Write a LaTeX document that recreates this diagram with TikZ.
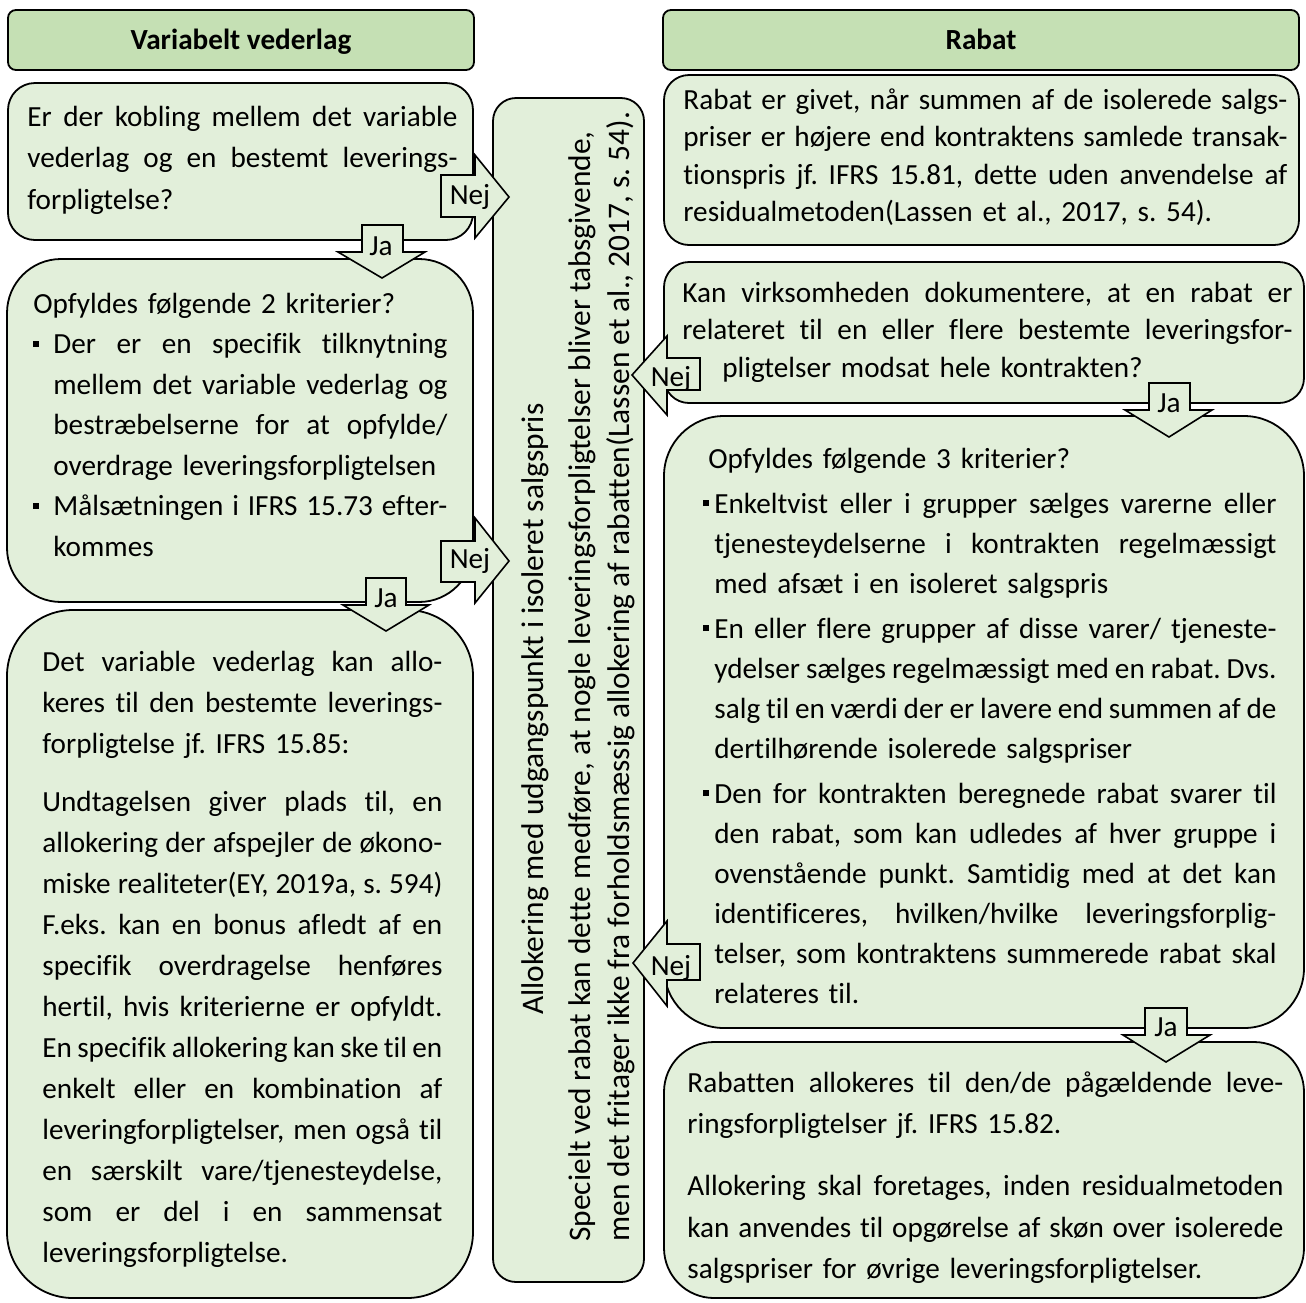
\documentclass[tikz,border=0pt]{standalone}
\usepackage{fontspec}
\setmainfont{Carlito}[Ligatures=NoCommon]
\usetikzlibrary{fit}
\frenchspacing
\definecolor{boxfill}{HTML}{E2EFDA}
\definecolor{headfill}{HTML}{C5E0B4}
\newcommand\sqz{\spaceskip=0.226em plus 1fil minus 0.13em\relax}
\newcommand\jst[1]{{\sqz\makebox[\hsize][s]{#1}}}
\newcommand\bulsq{\rule[3.5pt]{3pt}{3pt}}
\newcommand\bjst[2]{{\sqz\makebox[#1][l]{\bulsq}\makebox[\dimexpr\hsize-#1\relax][s]{#2}}}
\newcommand\ijst[2]{{\sqz\hspace*{#1}\makebox[\dimexpr\hsize-#1\relax][s]{#2}}}
\newcommand\ilst[2]{\hspace*{#1}#2}
\tikzset{
  box/.style={draw=black, line width=0.9pt, fill=boxfill, inner sep=0pt},
  hbox/.style={box, fill=headfill},
  arr/.style={draw=black, line width=0.8pt, fill=boxfill, line join=miter},
  txt/.style={anchor=base west, inner sep=0pt, align=left},
  lab/.style={anchor=base, inner sep=0pt, font=\fontsize{14.6pt}{16pt}\selectfont},
  head/.style={anchor=base, inner sep=0pt, font=\fontsize{14.6pt}{16pt}\selectfont\bfseries},
  vtxt/.style={txt, rotate=90, font=\fontsize{15.7pt}{18pt}\selectfont},
}
\begin{document}
\begin{tikzpicture}[x=0.5pt,y=-0.5pt]
\useasboundingbox (0,0) rectangle (1306,1302);
% ---------- boxes ----------
\node[hbox, rounded corners=4pt, fit={(8,10)(474,70)}] (hl) {};
\node[hbox, rounded corners=4pt, fit={(663,10)(1299,70)}] (hr) {};
\node[box, rounded corners=13.5pt, fit={(8,83)(473,240)}] (l1) {};
\node[box, rounded corners=27pt, fit={(7,259)(473,602)}] (l2) {};
\node[box, rounded corners=33pt, fit={(7,610)(473,1298)}] (l3) {};
\node[box, rounded corners=11.5pt, fit={(493,98)(644,1282)}] (mid) {};
\node[box, rounded corners=12.5pt, fit={(664,75)(1299,245)}] (r1) {};
\node[box, rounded corners=12.5pt, fit={(664,262)(1304,403)}] (r2) {};
\node[box, rounded corners=30pt, fit={(664,416)(1304,1028)}] (r3) {};
\node[box, rounded corners=25pt, fit={(664,1042)(1304,1298)}] (r5) {};
% ---------- headers ----------
\node[head] (hlt) at (241,49) {Variabelt vederlag};
\node[head] (hrt) at (981,49) {Rabat};
% ---------- left texts ----------
\node[txt, text width=215pt, font=\fontsize{14.6pt}{20.75pt}\selectfont] (l1t) at (27,126) {%
\jst{Er der kobling mellem det variable}\\
\jst{vederlag og en bestemt leverings-}\\
forpligtelse?};
\node[txt, text width=207pt, font=\fontsize{14.6pt}{20.25pt}\selectfont] (l2t) at (33,313) {%
Opfyldes følgende 2 kriterier?\\
\bjst{10pt}{Der er en specifik tilknytning}\\
\ijst{10pt}{mellem det variable vederlag og}\\
\ijst{10pt}{bestræbelserne for at opfylde/}\\
\ilst{10pt}{overdrage leveringsforpligtelsen}\\
\bjst{10pt}{Målsætningen i IFRS 15.73 efter-}\\
\ilst{10pt}{kommes}};
\node[txt, text width=200pt, font=\fontsize{14.6pt}{20.5pt}\selectfont] (l3t) at (42,671) {%
\jst{Det variable vederlag kan allo-}\\
\jst{keres til den bestemte leverings-}\\
forpligtelse jf. IFRS 15.85:\\[8.5pt]
\jst{Undtagelsen giver plads til, en}\\
\jst{allokering der afspejler de økono-}\\
\jst{miske realiteter(EY, 2019a, s. 594)}\\
\jst{F.eks. kan en bonus afledt af en}\\
\jst{specifik overdragelse henføres}\\
\jst{hertil, hvis kriterierne er opfyldt.}\\
\jst{En specifik allokering kan ske til en}\\
\jst{enkelt eller en kombination af}\\
\jst{leveringforpligtelser, men også til}\\
\jst{en særskilt vare/tjenesteydelse,}\\
\jst{som er del i en sammensat}\\
leveringsforpligtelse.};
% ---------- middle texts ----------
\node[vtxt] (ma) at (543,1015) {Allokering med udgangspunkt i isoleret salgspris};
\node[vtxt] (mb) at (590,1242) {Specielt ved rabat kan dette medføre, at nogle leveringsforpligtelser bliver tabsgivende,};
\node[vtxt] (mc) at (629,1242) {men det fritager ikke fra forholdsmæssig allokering af rabatten(Lassen et al., 2017, s. 54).};
% ---------- right texts ----------
\node[txt, text width=302pt, font=\fontsize{14.6pt}{18.75pt}\selectfont] (r1t) at (683,109) {%
\jst{Rabat er givet, når summen af de isolerede salgs-}\\
\jst{priser er højere end kontraktens samlede transak-}\\
\jst{tionspris jf. IFRS 15.81, dette uden anvendelse af}\\
residualmetoden(Lassen et al., 2017, s. 54).};
\node[txt, text width=305pt, font=\fontsize{14.6pt}{18.75pt}\selectfont] (r2t) at (682,302) {%
\jst{Kan virksomheden dokumentere, at en rabat er}\\
\jst{relateret til en eller flere bestemte leveringsfor-}\\
\hspace*{20pt}pligtelser modsat hele kontrakten?};
\node[txt, text width=286.5pt, font=\fontsize{14.6pt}{20pt}\selectfont] (r3t) at (703,468) {%
\hspace*{2.5pt}Opfyldes følgende 3 kriterier?\\[2.5pt]
\bjst{5.5pt}{Enkeltvist eller i grupper sælges varerne eller}\\
\ijst{5.5pt}{tjenesteydelserne i kontrakten regelmæssigt}\\
\ilst{5.5pt}{med afsæt i en isoleret salgspris}\\[2.5pt]
\bjst{5.5pt}{En eller flere grupper af disse varer/ tjeneste-}\\
\ijst{5.5pt}{ydelser sælges regelmæssigt med en rabat. Dvs.}\\
\ijst{5.5pt}{salg til en værdi der er lavere end summen af de}\\
\ilst{5.5pt}{dertilhørende isolerede salgspriser}\\[2.5pt]
\bjst{5.5pt}{Den for kontrakten beregnede rabat svarer til}\\
\ijst{5.5pt}{den rabat, som kan udledes af hver gruppe i}\\
\ijst{5.5pt}{ovenstående punkt. Samtidig med at det kan}\\
\ijst{5.5pt}{identificeres, hvilken/hvilke leveringsforplig-}\\
\ijst{5.5pt}{telser, som kontraktens summerede rabat skal}\\
\ilst{5.5pt}{relateres til.}};
\node[txt, text width=298pt, font=\fontsize{14.6pt}{20.75pt}\selectfont] (r5t) at (687,1092) {%
\jst{Rabatten allokeres til den/de pågældende leve-}\\
ringsforpligtelser jf. IFRS 15.82.\\[10.25pt]
\jst{Allokering skal foretages, inden residualmetoden}\\
\jst{kan anvendes til opgørelse af skøn over isolerede}\\
salgspriser for øvrige leveringsforpligtelser.};
% ---------- block arrows ----------
\draw[arr] (441,175) -- (475,175) -- (475,155) -- (509,197) -- (475,238) -- (475,217) -- (441,217) -- cycle;
\node[lab] (nej1) at (470,204) {Nej};
\draw[arr] (441,541) -- (475,541) -- (475,518) -- (509,561) -- (475,603) -- (475,582) -- (441,582) -- cycle;
\node[lab] (nej2) at (470,568) {Nej};
\draw[arr] (700,358) -- (667,358) -- (667,336) -- (632,375) -- (667,415) -- (667,390) -- (700,390) -- cycle;
\node[lab] (nej3) at (671,386) {Nej};
\draw[arr] (700,944) -- (667,944) -- (667,921) -- (633,963) -- (667,1006) -- (667,980) -- (700,980) -- cycle;
\node[lab] (nej4) at (671,975) {Nej};
\draw[arr] (362,225) -- (403,225) -- (403,252) -- (425,252) -- (382,278) -- (338,252) -- (362,252) -- cycle;
\node[lab] (ja1) at (381,255) {Ja};
\draw[arr] (366,578) -- (406,578) -- (406,605) -- (429,605) -- (386,631) -- (343,605) -- (366,605) -- cycle;
\node[lab] (ja2) at (386,607) {Ja};
\draw[arr] (1149,383) -- (1190,383) -- (1190,410) -- (1212,410) -- (1169,437) -- (1125,410) -- (1149,410) -- cycle;
\node[lab] (ja3) at (1169,412) {Ja};
\draw[arr] (1145,1008) -- (1187,1008) -- (1187,1035) -- (1210,1035) -- (1166,1062) -- (1123,1035) -- (1145,1035) -- cycle;
\node[lab] (ja4) at (1166,1036) {Ja};
\end{tikzpicture}
\end{document}
